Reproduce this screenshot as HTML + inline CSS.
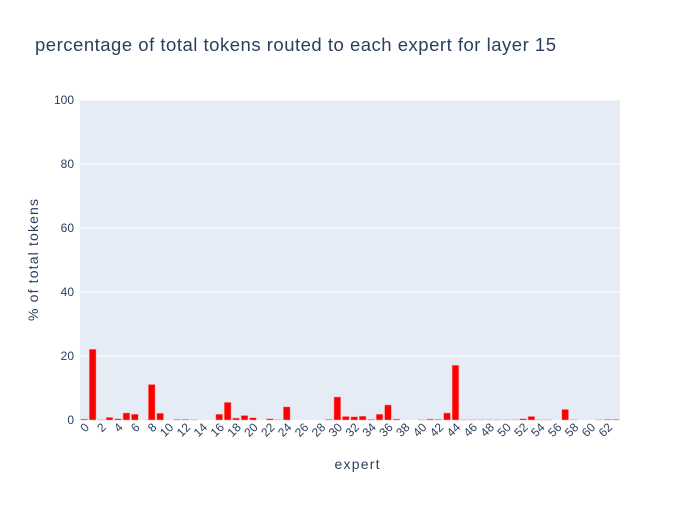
<!DOCTYPE html>
<html><head><meta charset="utf-8"><style>
body{margin:0;background:#fff;font-family:"Liberation Sans",Arial,sans-serif}
svg text{font-family:"Liberation Sans",Arial,sans-serif;fill:#2a3f5f}
</style></head><body>
<svg id="chart" width="700" height="500" xmlns="http://www.w3.org/2000/svg">
<text x="35" y="51" font-size="18.5" textLength="521" lengthAdjust="spacing">percentage of total tokens routed to each expert for layer 15</text>
<rect x="80" y="100" width="540" height="320" fill="#e5ecf6"/>
<g id="grid"></g><g id="bars"></g><g id="xticks"></g><g id="yticks"></g>
<text x="357" y="469" font-size="14" textLength="45" lengthAdjust="spacing" text-anchor="middle">expert</text>
<text transform="translate(38,260) rotate(-90)" font-size="14" textLength="122" lengthAdjust="spacing" text-anchor="middle">% of total tokens</text>
</svg>
<script>
const values=[0.3,22.1,0.1,0.8,0.4,2.2,1.8,0,11.1,2.1,0,0.2,0.2,0.1,0,0,1.8,5.5,0.6,1.4,0.7,0,0.4,0.1,4.1,0,0,0,0,0.2,7.2,1.1,1.0,1.2,0.2,1.8,4.7,0.3,0,0,0.1,0.3,0.2,2.2,17.1,0.05,0.05,0.05,0.05,0.05,0.05,0.1,0.4,1.1,0.1,0.1,0,3.3,0.1,0,0,0.1,0.2,0.2];
const yTicks=[0,20,40,60,80,100];
const NS="http://www.w3.org/2000/svg";
const X0=80,W=540,Y0=420,H=320,n=values.length,step=W/n;
const xs=i=>X0+(i+0.5)*step, ys=v=>Y0-v/100*H;
function mk(t,a,p){const e=document.createElementNS(NS,t);for(const k in a)e.setAttribute(k,a[k]);document.getElementById(p).appendChild(e);return e;}
yTicks.forEach(v=>{
 if(v>0){const g=mk('line',{x1:X0,x2:X0+W,y1:ys(v),y2:ys(v),stroke:'#fff','stroke-width':1},'grid');
 
 }
 const t=mk('text',{x:74,y:ys(v)+4,'font-size':12,'text-anchor':'end'},'yticks');t.textContent=v;
 
 
});
values.forEach((v,i)=>{
 const h=Y0-ys(v);
 const r=mk('rect',{x:xs(i)-step*0.4,y:ys(v),width:step*0.8,height:h,fill:'#ff0000',stroke:'#f4a6a6','stroke-width':0.5},'bars');
 
 
 if(i%2===0){const x=xs(i),y=428;
  const t=mk('text',{x:x,y:y,'font-size':12,'text-anchor':'end',transform:`rotate(-45 ${x} ${y})`,dx:4,dy:4},'xticks');t.textContent=i;
  
  }
});
</script>
</body></html>
